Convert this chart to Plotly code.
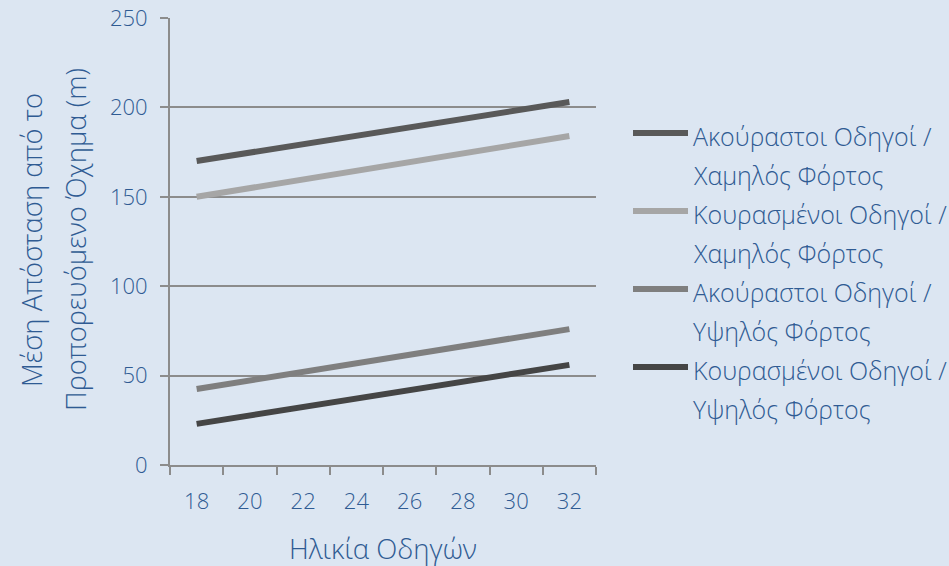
import plotly.graph_objects as go

# Driver age (x) and mean headway distance (m) for each group
ages = [18, 32]
rested_low = [170, 203]
tired_low = [150, 184]
rested_high = [42.5, 76]
tired_high = [23, 56]

series_names = [
    "Ακούραστοι Οδηγοί / Χαμηλός Φόρτος",
    "Κουρασμένοι Οδηγοί / Χαμηλός Φόρτος",
    "Ακούραστοι Οδηγοί / Υψηλός Φόρτος",
    "Κουρασμένοι Οδηγοί / Υψηλός Φόρτος",
]
series_values = [rested_low, tired_low, rested_high, tired_high]
series_colors = ["#595959", "#a6a6a6", "#7f7f7f", "#454545"]

x_ticks = [18, 20, 22, 24, 26, 28, 30, 32]
x_title = "Ηλικία Οδηγών"
y_title_lines = ["Μέση Απόσταση από το", "Προπορευόμενο Όχημα (m)"]

BG = "#dce6f2"
TXT = "#2f5b93"
AX = "#8c8c8c"
FONT = "Open Sans"

W, H = 949, 566
L, R, T, B = 170, 353, 18, 101
PW, PH = W - L - R, H - T - B


def px_x(px):
    return (px - L) / PW


def px_y(py):
    return (H - B - py) / PH


fig = go.Figure()
for name, vals, col in zip(series_names, series_values, series_colors):
    fig.add_trace(go.Scatter(
        x=ages, y=vals, name=name, mode="lines",
        line=dict(color=col, width=6), showlegend=False,
    ))

annotations = []
shapes = []

# axis titles
annotations.append(dict(
    text=x_title, xref="paper", yref="paper", x=px_x(383), y=px_y(548),
    xanchor="center", yanchor="middle", showarrow=False,
    font=dict(size=27.5, color=TXT, family=FONT, weight=300),
))
for i, (line, cx) in enumerate(zip(y_title_lines, [32, 76])):
    annotations.append(dict(
        text=line, xref="paper", yref="paper", x=px_x(cx), y=px_y(240),
        xanchor="center", yanchor="middle", textangle=-90, showarrow=False,
        font=dict(size=27.5, color=TXT, family=FONT, weight=300),
    ))

# legend keys and two-line labels
for i, (name, col) in enumerate(zip(series_names, series_colors)):
    cy = 133 + i * 78
    shapes.append(dict(
        type="line", xref="paper", yref="paper",
        x0=px_x(633), x1=px_x(688), y0=px_y(cy), y1=px_y(cy),
        line=dict(color=col, width=6),
    ))
    first, second = name.split("/ ")
    for j, part in enumerate([first + "/", second]):
        annotations.append(dict(
            text=part, xref="paper", yref="paper",
            x=px_x(691), y=px_y(cy + 3 + j * 39),
            xanchor="left", yanchor="middle", showarrow=False,
            font=dict(size=25, color=TXT, family=FONT, weight=300),
        ))

fig.update_layout(
    width=W, height=H,
    margin=dict(l=L, r=R, t=T, b=B),
    paper_bgcolor=BG, plot_bgcolor=BG,
    font=dict(family=FONT, color=TXT, size=22),
    annotations=annotations, shapes=shapes,
    xaxis=dict(
        range=[17, 33], tickvals=x_ticks, ticks="", automargin=False,
        showline=True, linecolor=AX, linewidth=2,
        showgrid=False, zeroline=False,
        tickfont=dict(size=22, color=TXT, family=FONT, weight=300),
        ticklabelstandoff=16,
        minor=dict(tick0=17, dtick=2, ticks="outside", ticklen=8,
                   tickwidth=2, tickcolor=AX, showgrid=False),
    ),
    yaxis=dict(
        range=[0, 250], dtick=50, showgrid=True, gridcolor=AX, gridwidth=2,
        showline=True, linecolor=AX, linewidth=2, zeroline=False,
        automargin=False,
        ticks="outside", ticklen=8, tickwidth=2, tickcolor=AX,
        tickfont=dict(size=22, color=TXT, family=FONT, weight=300),
        ticklabelstandoff=8,
    ),
)

fig.write_html("out.html")
